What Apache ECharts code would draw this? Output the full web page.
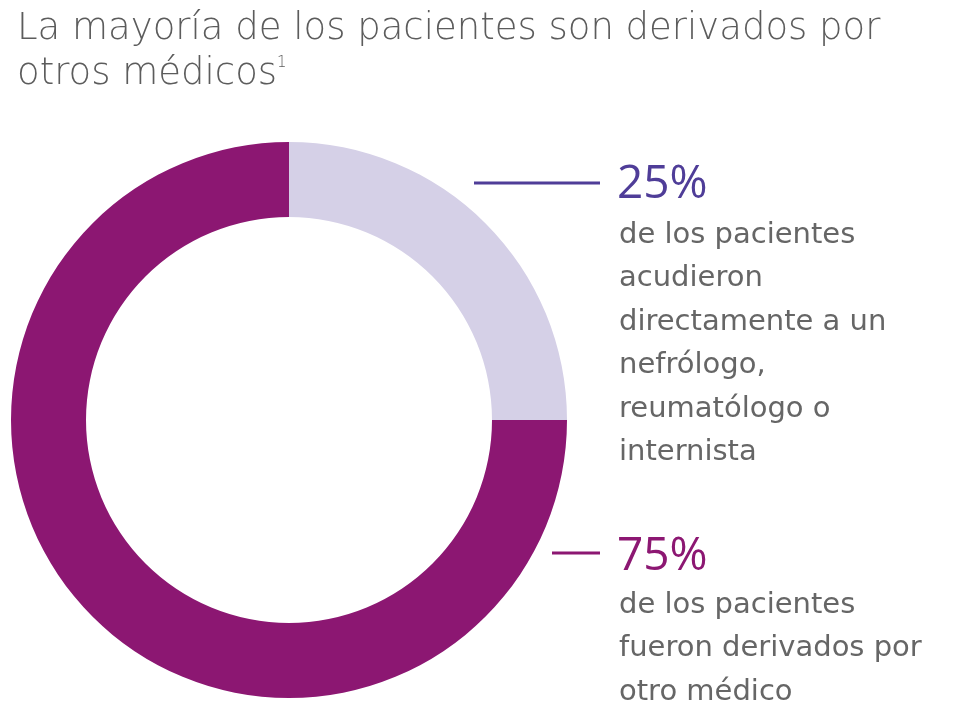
<!DOCTYPE html>
<html><head><meta charset="utf-8">
<script src="https://cdn.jsdelivr.net/npm/echarts@6/dist/echarts.min.js"></script>
<style>html,body{margin:0;padding:0;background:#fff}#c{width:957px;height:711px}</style>
</head><body><div id="c"></div>
<script>
const categories = ['Acudieron directamente', 'Derivados por otro médico'];
const values = [25, 75];
const colors = ['#d5d0e7', '#8c1772'];
const accent = ['#4f3d98', '#8c1772'];
const titleLines = ['La mayoría de los pacientes son derivados por', 'otros médicos'];
const titleSup = '1';
const pctLabels = ['25%', '75%'];
const descLines = [
  ['de los pacientes', 'acudieron', 'directamente a un', 'nefrólogo,', 'reumatólogo o', 'internista'],
  ['de los pacientes', 'fueron derivados por', 'otro médico']
];

const chart = echarts.init(document.getElementById('c'));
const FONT = '"Open Sans", "Noto Sans", sans-serif';
const WIDE = '"DejaVu Sans", sans-serif';
const gray = '#666666';
const titleGray = '#5c5c5c';
const graphics = [];
graphics.push({type:'text', x:17, y:29, style:{text:titleLines[0], font:'200 37px ' + WIDE, fill:titleGray, verticalAlign:'middle'}});
graphics.push({type:'text', x:17, y:74, style:{
  text:titleLines[1] + '{s|' + titleSup + '}', font:'200 37px ' + WIDE, fill:titleGray, verticalAlign:'middle',
  rich:{s:{fontSize:15, fontWeight:200, fontFamily:'DejaVu Sans', fill:titleGray, verticalAlign:'top', padding:[0,0,18,0]}}
}});
const lineY = [183, 553];
const lineX0 = [474, 552];
const pctY = [185, 557];
const descY0 = [235, 605];
for (let i = 0; i < 2; i++) {
  graphics.push({type:'line', shape:{x1:lineX0[i], y1:lineY[i], x2:600, y2:lineY[i]}, style:{stroke:accent[i], lineWidth:3}});
  graphics.push({type:'text', x:617, y:pctY[i], style:{text:pctLabels[i], font:'400 46px ' + FONT, fill:accent[i], verticalAlign:'middle', align:'left'}});
  descLines[i].forEach((t, j) => {
    graphics.push({type:'text', x:619, y:descY0[i] + j*43.5, style:{text:t, font:'400 29px ' + WIDE, fill:gray, verticalAlign:'middle', align:'left'}});
  });
}

chart.setOption({
  animation:false,
  graphic: graphics,
  series:[{
    type:'pie',
    center:[289, 420],
    radius:[203, 278],
    startAngle:90,
    clockwise:true,
    label:{show:false},
    labelLine:{show:false},
    emphasis:{disabled:true},
    itemStyle:{borderWidth:0},
    data: categories.map((c, i) => ({name:c, value:values[i], itemStyle:{color:colors[i]}}))
  }]
});
</script></body></html>
